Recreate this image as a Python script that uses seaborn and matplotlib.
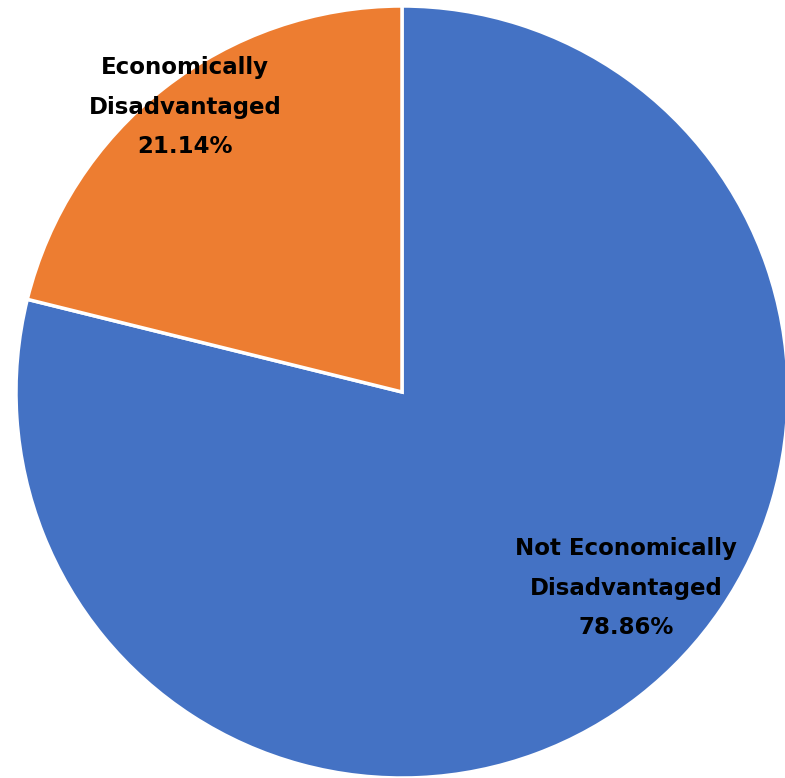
import matplotlib.pyplot as plt
import seaborn as sns

categories = ['Not Economically\nDisadvantaged', 'Economically\nDisadvantaged']
shares = [78.86, 21.14]
colors = ['#4472C4', '#ED7D31']

sns.set_theme(style='white')
plt.rcParams['font.family'] = ['DejaVu Sans']

fig = plt.figure(figsize=(7.85, 7.78), dpi=100)
ax = fig.add_axes([0, 0, 1, 1])

wedges, _ = ax.pie(shares, colors=colors, startangle=90, counterclock=False,
                   center=(402, 386), radius=386, frame=True,
                   wedgeprops=dict(edgecolor='white', linewidth=2.5))
ax.set_xlim(0, 785)
ax.set_ylim(0, 778)
ax.set_aspect('equal')
ax.axis('off')

label_pos = [(626, 190), (185, 671)]
for (x, y), name, val in zip(label_pos, categories, shares):
    ax.text(x, y, f'{name}\n{val:.2f}%', ha='center', va='center',
            fontsize=16.5, fontweight='bold', color='black', linespacing=1.9)

plt.savefig('out.png', dpi=100)
